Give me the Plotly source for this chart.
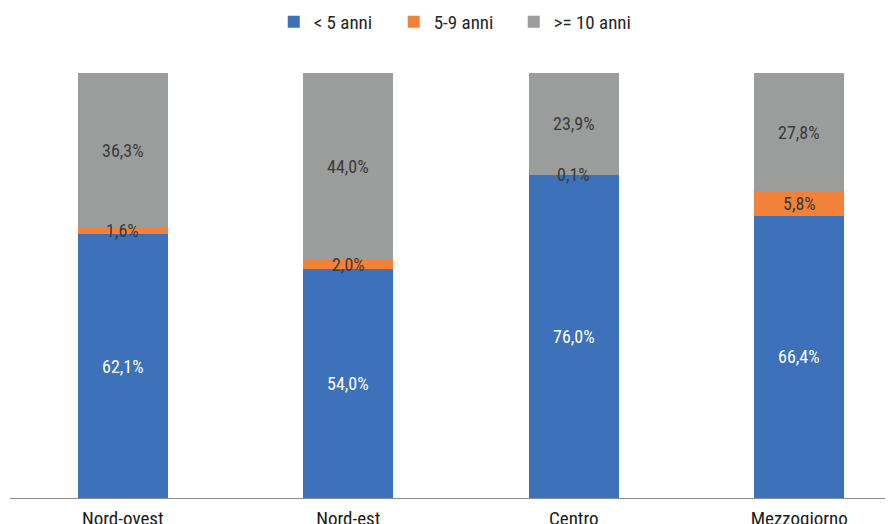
import plotly.graph_objects as go

categories = ["Nord-ovest", "Nord-est", "Centro", "Mezzogiorno"]
series_names = ["< 5 anni", "5-9 anni", ">= 10 anni"]
under5 = [62.1, 54.0, 76.0, 66.4]
from5to9 = [1.6, 2.0, 0.1, 5.8]
over10 = [36.3, 44.0, 23.9, 27.8]

colors = ["#3D71B9", "#F2813A", "#9B9D9C"]
label_colors = ["#FFFFFF", "#3A3A3A", "#3A3A3A"]
FONT = "Liberation Sans Narrow, Roboto Condensed, Roboto, sans-serif"

fig = go.Figure()
series = [under5, from5to9, over10]
for name, vals, col in zip(series_names, series, colors):
    fig.add_trace(go.Bar(
        name=name, x=categories, y=vals, marker=dict(color=col, line=dict(width=0)),
        width=0.4, textposition="none", hoverinfo="skip"))

annotations = []
base = [0.0] * len(categories)
for vals, lc in zip(series, label_colors):
    for i, v in enumerate(vals):
        annotations.append(dict(
            x=categories[i], y=base[i] + v / 2, xref="x", yref="y",
            text=f"{v:.1f}%".replace(".", ","), showarrow=False,
            font=dict(family=FONT, size=18, color=lc)))
        base[i] += v

fig.update_layout(
    barmode="stack",
    width=893, height=524,
    margin=dict(l=2, r=0, t=65, b=34, autoexpand=False),
    paper_bgcolor="white", plot_bgcolor="white",
    font=dict(family=FONT, size=18, color="#222222"),
    annotations=annotations,
    legend=dict(orientation="h", x=0.296, xanchor="left", y=1.12, yanchor="middle",
                yref="paper", font=dict(family=FONT, size=19, color="#262626"),
                traceorder="normal", itemwidth=30,
                entrywidth=75, entrywidthmode="pixels"),
    showlegend=True,
)
fig.update_xaxes(range=[-0.5, 3.451], showline=True, linecolor="#8C8C8C", linewidth=1,
                 ticks="", showgrid=False, automargin=False, ticklabelstandoff=3,
                 tickfont=dict(family=FONT, size=19, color="#1A1A1A"))
fig.update_yaxes(range=[0, 100], visible=False, showgrid=False, automargin=False)

fig.write_html("out.html")
